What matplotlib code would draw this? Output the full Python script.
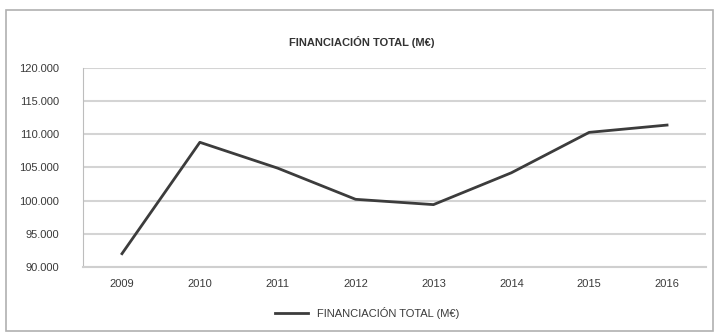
import matplotlib
matplotlib.use('Agg')
import matplotlib.pyplot as plt
from matplotlib.patches import Rectangle
from matplotlib.ticker import FuncFormatter

years = ['2009', '2010', '2011', '2012', '2013', '2014', '2015', '2016']
financiacion = [92000, 108800, 104900, 100200, 99400, 104200, 110300, 111400]
serie = 'FINANCIACIÓN TOTAL (M€)'

plt.rcParams['font.family'] = ['Liberation Sans', 'DejaVu Sans']

fig = plt.figure(figsize=(7.16, 3.32), dpi=100)
fig.patches.append(Rectangle((0.008, 0.004), 0.988, 0.966, transform=fig.transFigure,
                             fill=False, edgecolor='#b0b0b0', linewidth=1.2))

ax = fig.add_axes([0.116, 0.196, 0.870, 0.599])
x = range(len(years))
ax.plot(x, financiacion, color='#3c3c3c', linewidth=2.0, label=serie, zorder=3)

ax.set_xlim(-0.5, len(years) - 0.5)
ax.set_ylim(90000, 120000)
ax.set_yticks(range(90000, 120001, 5000))
ax.yaxis.set_major_formatter(FuncFormatter(lambda v, p: '{:,.0f}'.format(v).replace(',', '.')))
ax.set_xticks(list(x))
ax.set_xticklabels(years)
ax.grid(axis='y', color='#d4d4d4', linewidth=1.5)
ax.set_axisbelow(True)
for s in ['top', 'right']:
    ax.spines[s].set_visible(False)
ax.spines['left'].set_color('#bdbdbd')
ax.spines['bottom'].set_color('#cfcfcf')
ax.spines['bottom'].set_linewidth(1.5)
ax.tick_params(axis='both', length=0, labelsize=8, colors='#3a3a3a')
ax.tick_params(axis='y', pad=17)
ax.tick_params(axis='x', pad=9)

fig.text(0.505, 0.873, serie, ha='center', va='center', fontsize=8, fontweight='bold', color='#333333')
fig.legend(loc='center', bbox_to_anchor=(0.513, 0.057), frameon=False, fontsize=8,
           handlelength=3, labelcolor='#3a3a3a')

fig.savefig('out.png', dpi=100)
